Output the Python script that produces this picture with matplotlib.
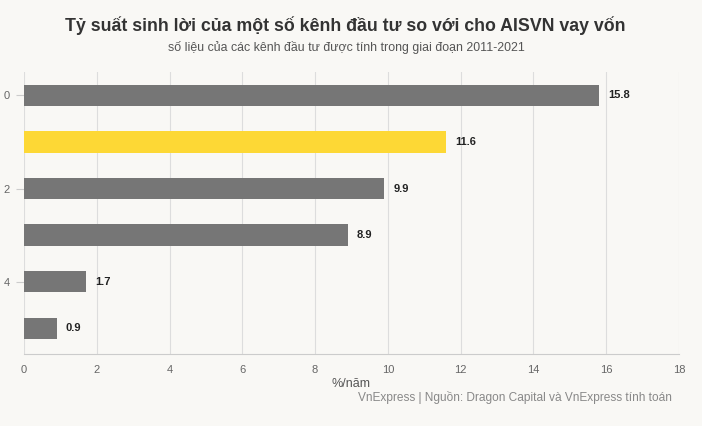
import matplotlib.pyplot as plt

# Dữ liệu
vi_tri = [0, 1, 2, 3, 4, 5]
ty_suat = [15.8, 11.6, 9.9, 8.9, 1.7, 0.9]
mau_cot = ['#767676', '#fdd835', '#767676', '#767676', '#767676', '#767676']
nhan_x = [0, 2, 4, 6, 8, 10, 12, 14, 16, 18]
nhan_y = [0, 2, 4]

plt.rcParams['font.family'] = ['Liberation Sans', 'DejaVu Sans']
nen = '#f9f8f5'

fig = plt.figure(figsize=(7.02, 4.26), dpi=100, facecolor=nen)
ax = fig.add_axes([24 / 702, 1 - 354 / 426, 655 / 702, 282 / 426], facecolor=nen)

ax.barh(vi_tri, ty_suat, height=0.46, color=mau_cot, zorder=3)
for y, v in zip(vi_tri, ty_suat):
    ax.text(v + 0.25, y, f'{v}', va='center', ha='left', fontsize=8,
            fontweight='bold', color='#222222', zorder=4)

ax.set_xlim(0, 18)
ax.set_ylim(5.55, -0.5)
ax.set_xticks(nhan_x)
ax.set_yticks(nhan_y)
ax.grid(axis='x', color='#dddddd', linewidth=0.8, zorder=0)
for s in ['top', 'right', 'left']:
    ax.spines[s].set_visible(False)
ax.spines['bottom'].set_color('#cccccc')
ax.tick_params(axis='x', length=0, pad=8, labelsize=8, labelcolor='#666666')
ax.tick_params(axis='y', length=6, color='#cccccc', pad=4, labelsize=8, labelcolor='#666666')

ax.set_xlabel('%/năm', fontsize=9, color='#555555', labelpad=2)

fig.text(345 / 702, 1 - 26 / 426, 'Tỷ suất sinh lời của một số kênh đầu tư so với cho AISVN vay vốn',
         ha='center', va='center', fontsize=12.8, fontweight='bold', color='#333333')
fig.text(346 / 702, 1 - 48 / 426, 'số liệu của các kênh đầu tư được tính trong giai đoạn 2011-2021',
         ha='center', va='center', fontsize=8.9, color='#555555')
fig.text(672 / 702, 1 - 398 / 426, 'VnExpress | Nguồn: Dragon Capital và VnExpress tính toán',
         ha='right', va='center', fontsize=8.6, color='#888888')

fig.savefig('out.png', dpi=100, facecolor=nen)
